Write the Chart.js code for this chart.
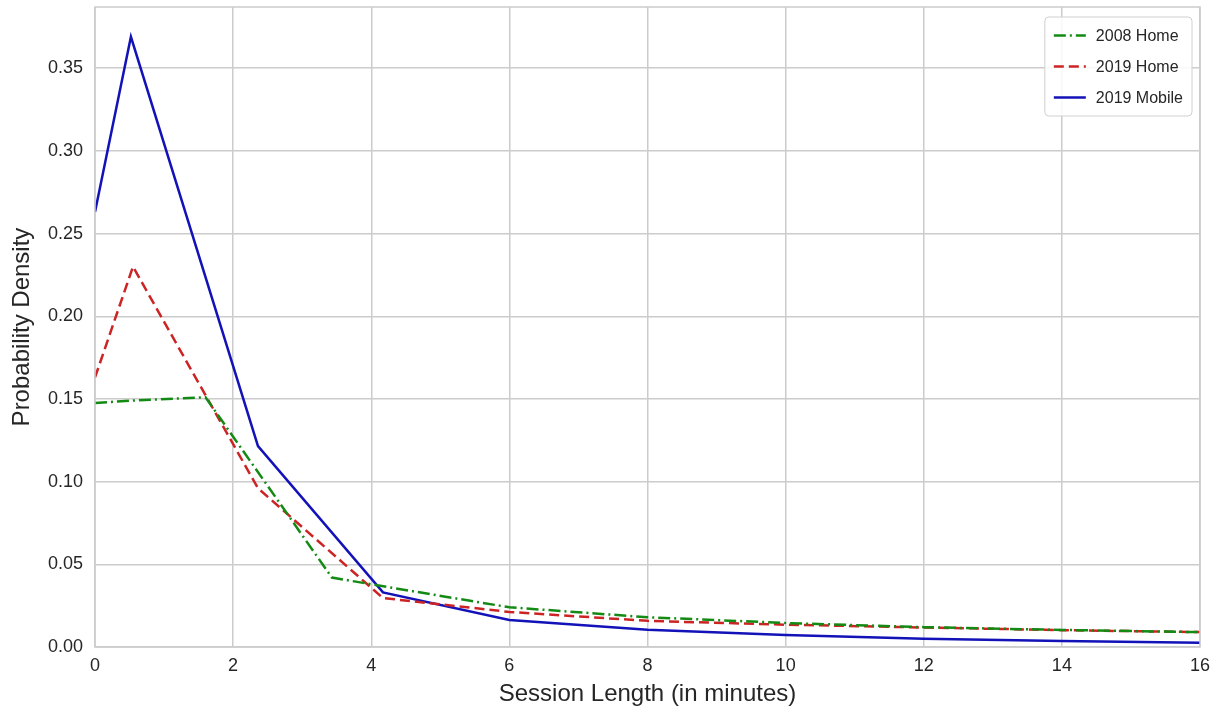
<!DOCTYPE html>
<html>
<head>
<meta charset="utf-8">
<script src="https://cdn.jsdelivr.net/npm/chart.js@4.4.1/dist/chart.umd.min.js"></script>
<style>
  html, body { margin: 0; padding: 0; background: #ffffff; }
  #wrap { width: 1225px; height: 719px; }
</style>
</head>
<body>
<div id="wrap"><canvas id="sessionChart" width="1225" height="719"></canvas></div>
<script>
// data (session length in minutes -> density)
const seriesNames = ['2008 Home', '2019 Home', '2019 Mobile'];

const home2008X = [0, 0.53, 1.6, 3.43, 4.13, 6, 8, 10, 12, 14, 16];
const home2008Y = [0.1475, 0.149, 0.151, 0.042, 0.037, 0.024, 0.018, 0.0145, 0.012, 0.0103, 0.009];

const home2019X = [0, 0.55, 2.36, 4.17, 6, 8, 10, 12, 14, 16];
const home2019Y = [0.163, 0.23, 0.096, 0.0296, 0.0212, 0.0158, 0.0135, 0.0118, 0.0102, 0.009];

const mobile2019X = [0, 0.52, 2.36, 4.17, 6, 8, 10, 12, 14, 16];
const mobile2019Y = [0.263, 0.369, 0.1215, 0.033, 0.0163, 0.0105, 0.0073, 0.005, 0.0037, 0.0025];

const xTicks = [0, 2, 4, 6, 8, 10, 12, 14, 16];
const yTicks = [0, 0.05, 0.10, 0.15, 0.20, 0.25, 0.30, 0.35];

const fontFamily = "'Liberation Sans', Arial, sans-serif";

function toPoints(xs, ys) {
    let pts = [];
    for (let i = 0; i < xs.length; i++) {
        pts.push({ x: xs[i], y: ys[i] });
    }
    return pts;
}

// frame round the plot area (top and right spines too)
const frame = {
    id: 'frame',
    afterDraw(chart) {
        const ctx = chart.ctx;
        const a = chart.chartArea;
        ctx.save();
        ctx.strokeStyle = '#cccccc';
        ctx.lineWidth = 1.5;
        ctx.strokeRect(a.left, a.top, a.right - a.left, a.bottom - a.top);
        ctx.restore();
    }
};

// legend box in the upper right corner, like matplotlib's
const boxLegend = {
    id: 'boxLegend',
    afterDraw(chart) {
        const ctx = chart.ctx;
        const a = chart.chartArea;
        const sets = chart.data.datasets;
        ctx.save();
        ctx.font = '16px ' + fontFamily;
        let textW = 0;
        sets.forEach(function(ds) {
            textW = Math.max(textW, ctx.measureText(ds.label).width);
        });
        const pad = 9, handle = 32, gap = 10, rowH = 31;
        const boxW = pad + handle + gap + textW + pad;
        const boxH = rowH * sets.length + 6;
        const right = a.right - 8;
        const left = right - boxW;
        const top = a.top + 10;

        ctx.fillStyle = 'rgba(255,255,255,0.85)';
        ctx.strokeStyle = '#d0d0d0';
        ctx.lineWidth = 1;
        ctx.beginPath();
        ctx.roundRect(left, top, boxW, boxH, 4);
        ctx.fill();
        ctx.stroke();

        sets.forEach(function(ds, i) {
            const cy = top + 3 + rowH * i + rowH / 2;
            ctx.strokeStyle = ds.borderColor;
            ctx.lineWidth = ds.borderWidth;
            ctx.setLineDash(ds.borderDash || []);
            ctx.beginPath();
            ctx.moveTo(left + pad, cy);
            ctx.lineTo(left + pad + handle, cy);
            ctx.stroke();
            ctx.setLineDash([]);
            ctx.fillStyle = '#262626';
            ctx.textBaseline = 'middle';
            ctx.fillText(ds.label, left + pad + handle + gap, cy + 1);
        });
        ctx.restore();
    }
};

let ctx = document.getElementById('sessionChart').getContext('2d');

let myChart = new Chart(ctx, {
    type: 'line',
    data: {
        datasets: [{
            label: seriesNames[0],
            data: toPoints(home2008X, home2008Y),
            borderColor: '#138a13',
            borderWidth: 2.5,
            borderDash: [12, 4, 2, 4]
        }, {
            label: seriesNames[1],
            data: toPoints(home2019X, home2019Y),
            borderColor: '#cc2424',
            borderWidth: 2.5,
            borderDash: [10, 5]
        }, {
            label: seriesNames[2],
            data: toPoints(mobile2019X, mobile2019Y),
            borderColor: '#1212b8',
            borderWidth: 2.5
        }]
    },
    options: {
        responsive: false,
        animation: false,
        events: [],
        elements: {
            point: { radius: 0 },
            line: { tension: 0, fill: false }
        },
        layout: { padding: { top: 7, right: 25, left: 0, bottom: 0 } },
        plugins: {
            legend: { display: false },
            tooltip: { enabled: false }
        },
        scales: {
            x: {
                type: 'linear',
                min: 0,
                max: 16,
                afterBuildTicks: function(scale) {
                    scale.ticks = xTicks.map(v => ({ value: v }));
                },
                afterFit: function(scale) { scale.height = 72; },
                ticks: {
                    color: '#262626',
                    font: { family: fontFamily, size: 18 },
                    padding: 8,
                    maxRotation: 0,
                    callback: v => String(v)
                },
                grid: { color: '#cccccc', lineWidth: 1.5, drawTicks: false },
                border: { display: false },
                title: {
                    display: true,
                    text: 'Session Length (in minutes)',
                    color: '#262626',
                    font: { family: fontFamily, size: 24 },
                    padding: { top: 0, bottom: 10 }
                }
            },
            y: {
                min: 0,
                max: 0.387,
                afterBuildTicks: function(scale) {
                    scale.ticks = yTicks.map(v => ({ value: v }));
                },
                afterFit: function(scale) {
                    scale.width = 95;
                    scale.paddingTop = 0;
                    scale.paddingBottom = 0;
                },
                ticks: {
                    color: '#262626',
                    font: { family: fontFamily, size: 18 },
                    padding: 12,
                    callback: v => v.toFixed(2)
                },
                grid: { color: '#cccccc', lineWidth: 1.5, drawTicks: false },
                border: { display: false },
                title: {
                    display: true,
                    text: 'Probability Density',
                    color: '#262626',
                    font: { family: fontFamily, size: 24 },
                    padding: { top: 8, bottom: 0 }
                }
            }
        }
    },
    plugins: [frame, boxLegend]
});
</script>
</body>
</html>
